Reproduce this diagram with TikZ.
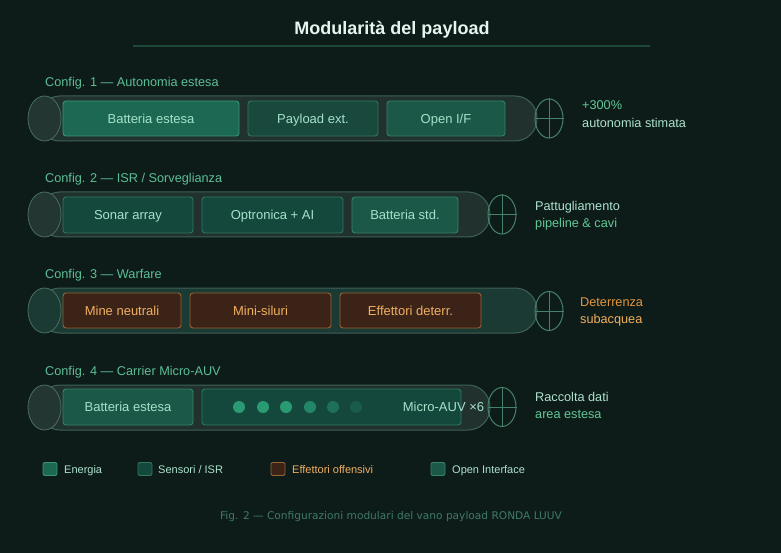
\documentclass[tikz,border=0pt]{standalone}
\usepackage{fontspec}
\setmainfont{Liberation Sans}
\newfontfamily\capfont{DejaVu Sans}
\usetikzlibrary{shapes.geometric}
\definecolor{bg}{RGB}{14,28,25}
\definecolor{hullfill}{RGB}{33,50,46}
\definecolor{hullfillw}{RGB}{28,58,52}
\definecolor{hulldraw}{RGB}{62,96,86}
\definecolor{nosefill}{RGB}{36,54,50}
\definecolor{nosedraw}{RGB}{72,112,98}
\definecolor{propdraw}{RGB}{70,130,106}
\definecolor{enfill}{RGB}{29,104,82}
\definecolor{endraw}{RGB}{56,150,116}
\definecolor{sefill}{RGB}{21,72,61}
\definecolor{sedraw}{RGB}{48,118,96}
\definecolor{oifill}{RGB}{27,88,71}
\definecolor{oidraw}{RGB}{52,132,106}
\definecolor{pxfill}{RGB}{25,72,60}
\definecolor{modtext}{RGB}{165,226,204}
\definecolor{wafill}{RGB}{60,35,24}
\definecolor{wadraw}{RGB}{150,100,52}
\definecolor{watext}{RGB}{240,176,96}
\definecolor{waorange}{RGB}{226,150,62}
\definecolor{titlecol}{RGB}{230,245,239}
\definecolor{titleline}{RGB}{28,72,56}
\definecolor{cfgcol}{RGB}{92,190,150}
\definecolor{sidegreen}{RGB}{98,200,152}
\definecolor{sidelight}{RGB}{172,226,206}
\definecolor{capcol}{RGB}{62,122,102}
\definecolor{dotA}{RGB}{42,154,114}
\definecolor{dotB}{RGB}{36,134,104}
\definecolor{dotC}{RGB}{31,112,90}
\definecolor{dotD}{RGB}{26,92,76}
\tikzset{
  hull/.style={fill=hullfill,draw=hulldraw,line width=1pt,rounded corners=22pt},
  nose/.style={ellipse,fill=nosefill,draw=nosedraw,line width=0.8pt,minimum width=33pt,minimum height=45pt,inner sep=0pt},
  prop/.style={ellipse,draw=propdraw,line width=1pt,minimum width=28pt,minimum height=39pt,inner sep=0pt},
  propx/.style={draw=propdraw,line width=1pt},
  modbase/.style={rectangle,rounded corners=3pt,line width=0.9pt,inner sep=0pt,minimum height=35pt,font=\fontsize{13}{15}\selectfont,text height=9.3pt,text depth=0pt,text=modtext},
  enmod/.style={modbase,fill=enfill,draw=endraw},
  semod/.style={modbase,fill=sefill,draw=sedraw},
  oimod/.style={modbase,fill=oifill,draw=oidraw},
  pxmod/.style={modbase,fill=pxfill,draw=sedraw},
  wamod/.style={modbase,fill=wafill,draw=wadraw,text=watext},
  cfglabel/.style={anchor=west,font=\fontsize{12.7}{15}\selectfont,text height=9.1pt,text depth=0pt,text=cfgcol,inner sep=0pt},
  side/.style={anchor=west,font=\fontsize{12.7}{15}\selectfont,text height=9.1pt,text depth=0pt,inner sep=0pt},
  legsq/.style={rectangle,rounded corners=2pt,minimum width=14pt,minimum height=13pt,inner sep=0pt,line width=0.9pt},
  legtxt/.style={anchor=west,font=\fontsize{11}{13}\selectfont,text height=7.9pt,text depth=0pt,inner sep=0pt},
  dot/.style={circle,minimum size=12pt,inner sep=0pt}
}
\begin{document}
\begin{tikzpicture}[x=1pt,y=-1pt]
\path[fill=bg,use as bounding box] (0,0) rectangle (781,553);
% title
\node[font=\bfseries\fontsize{18}{21}\selectfont,text height=12.9pt,text depth=0pt,inner sep=0pt,text=titlecol] (title) at (392,28) {Modularità del payload};
\coordinate (tl) at (133,46);
\coordinate (tr) at (650,46);
\draw[titleline,line width=2pt] (tl) -- (tr);

% ---------- Config 1 ----------
\node[cfglabel] (c1) at (45,82) {Config. 1 — Autonomia estesa};
\draw[hull] (38,96) rectangle (537,141);
\node[nose] (n1) at (44.5,118.5) {};
\node[enmod,minimum width=176pt] (m11) at (151,118.5) {Batteria estesa};
\node[pxmod,minimum width=130pt] (m12) at (313,118.5) {Payload ext.};
\node[oimod,minimum width=118pt] (m13) at (446,118.5) {Open I/F};
\node[prop] (p1) at (549,118.5) {};
\draw[propx] (p1.north) -- (p1.south) (p1.west) -- (p1.east);
\node[side,text=sidegreen] (s1a) at (582,105) {+300\%};
\node[side,text=sidelight] (s1b) at (582,122.5) {autonomia stimata};

% ---------- Config 2 ----------
\node[cfglabel] (c2) at (45,178) {Config. 2 — ISR / Sorveglianza};
\draw[hull] (38,192) rectangle (490,237);
\node[nose] (n2) at (44.5,214.5) {};
\node[semod,minimum width=130pt,minimum height=36pt] (m21) at (128,215) {Sonar array};
\node[semod,minimum width=141pt,minimum height=36pt] (m22) at (272.5,215) {Optronica + AI};
\node[oimod,minimum width=106pt,minimum height=36pt] (m23) at (405,215) {Batteria std.};
\node[prop] (p2) at (502,214.5) {};
\draw[propx] (p2.north) -- (p2.south) (p2.west) -- (p2.east);
\node[side,text=sidelight] (s2a) at (535,205.5) {Pattugliamento};
\node[side,text=sidegreen] (s2b) at (535,222.5) {pipeline \& cavi};

% ---------- Config 3 ----------
\node[cfglabel] (c3) at (45,274) {Config. 3 — Warfare};
\draw[hull,fill=hullfillw] (38,288) rectangle (537,333);
\node[nose,fill=hullfillw] (n3) at (44.5,310.5) {};
\node[wamod,minimum width=118pt] (m31) at (122,310.5) {Mine neutrali};
\node[wamod,minimum width=141pt] (m32) at (260.5,310.5) {Mini-siluri};
\node[wamod,minimum width=141pt] (m33) at (410.5,310.5) {Effettori deterr.};
\node[prop] (p3) at (549,311) {};
\draw[propx] (p3.north) -- (p3.south) (p3.west) -- (p3.east);
\node[side,text=waorange] (s3a) at (580,301.5) {Deterrenza};
\node[side,text=watext] (s3b) at (580,319) {subacquea};

% ---------- Config 4 ----------
\node[cfglabel] (c4) at (45,371) {Config. 4 — Carrier Micro-AUV};
\draw[hull] (38,385) rectangle (490,430);
\node[nose] (n4) at (44.5,407.5) {};
\node[oimod,minimum width=130pt,minimum height=36pt] (m41) at (128,407) {Batteria estesa};
\node[semod,minimum width=259pt,minimum height=36pt] (m42) at (331.5,407) {};
\node[dot,fill=dotA] (d1) at (239,407) {};
\node[dot,fill=dotA] (d2) at (263,407) {};
\node[dot,fill=dotA] (d3) at (286,407) {};
\node[dot,fill=dotB] (d4) at (310,407) {};
\node[dot,fill=dotC] (d5) at (333,407) {};
\node[dot,fill=dotD] (d6) at (356,407) {};
\node[font=\fontsize{13}{15}\selectfont,text height=9.3pt,text depth=0pt,text=modtext,inner sep=0pt] (mt) at (443.5,407) {Micro-AUV ×6};
\node[prop] (p4) at (502,407) {};
\draw[propx] (p4.north) -- (p4.south) (p4.west) -- (p4.east);
\node[side,text=sidelight] (s4a) at (535,396.5) {Raccolta dati};
\node[side,text=sidegreen] (s4b) at (535,413.5) {area estesa};

% ---------- Legend ----------
\node[legsq,fill=enfill,draw=endraw] (l1) at (50,469) {};
\node[legtxt,text=sidelight] (lt1) at (64,469.5) {Energia};
\node[legsq,fill=sefill,draw=sedraw] (l2) at (145,469) {};
\node[legtxt,text=sidelight] (lt2) at (158,469.5) {Sensori / ISR};
\node[legsq,fill=wafill,draw=wadraw] (l3) at (278,469) {};
\node[legtxt,text=watext] (lt3) at (292,469.5) {Effettori offensivi};
\node[legsq,fill=oifill,draw=oidraw] (l4) at (438,469) {};
\node[legtxt,text=sidelight] (lt4) at (452,469.5) {Open Interface};

% caption
\node[font=\capfont\fontsize{10.6}{12}\selectfont,text height=7.7pt,text depth=0pt,inner sep=0pt,text=capcol] (cap) at (391,515.5) {Fig. 2 — Configurazioni modulari del vano payload RONDA LUUV};
\end{tikzpicture}
\end{document}
